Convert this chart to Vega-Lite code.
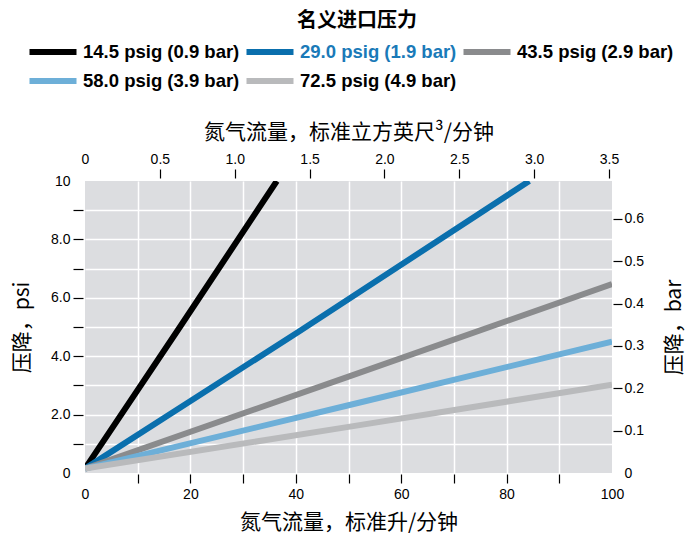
{
  "$schema": "https://vega.github.io/schema/vega-lite/v6.json",
  "width": 527,
  "height": 292,
  "autosize": {"type": "none"},
  "padding": {"left": 85, "top": 181, "right": 84, "bottom": 66},
  "background": "white",
  "config": {
    "view": {"fill": "#dcdde0", "stroke": null},
    "font": "Liberation Sans",
    "axis": {"labelFont": "Liberation Sans", "labelFontSize": 14, "labelColor": "#000", "labelFlush": false, "titleFont": "Noto Sans CJK SC", "titleFontSize": 21, "titleFontWeight": "normal", "titleColor": "#000", "domain": false, "tickColor": "#000", "tickWidth": 1.2}
  },
  "datasets": {
    "lines": [
      {"series": "14.5 psig (0.9 bar)", "lpm": 0, "psi": 0.15},
      {"series": "14.5 psig (0.9 bar)", "lpm": 18.2, "psi": 5.05},
      {"series": "14.5 psig (0.9 bar)", "lpm": 36.4, "psi": 10},
      {"series": "29.0 psig (1.9 bar)", "lpm": 0, "psi": 0.15},
      {"series": "29.0 psig (1.9 bar)", "lpm": 40.9, "psi": 4.88},
      {"series": "29.0 psig (1.9 bar)", "lpm": 84.3, "psi": 10},
      {"series": "43.5 psig (2.9 bar)", "lpm": 0, "psi": 0.15},
      {"series": "43.5 psig (2.9 bar)", "lpm": 50, "psi": 3.3},
      {"series": "43.5 psig (2.9 bar)", "lpm": 100, "psi": 6.47},
      {"series": "58.0 psig (3.9 bar)", "lpm": 0, "psi": 0.15},
      {"series": "58.0 psig (3.9 bar)", "lpm": 50, "psi": 2.32},
      {"series": "58.0 psig (3.9 bar)", "lpm": 100, "psi": 4.5},
      {"series": "72.5 psig (4.9 bar)", "lpm": 0, "psi": 0.15},
      {"series": "72.5 psig (4.9 bar)", "lpm": 50, "psi": 1.58},
      {"series": "72.5 psig (4.9 bar)", "lpm": 100, "psi": 3.02}
    ],
    "secondary": [
      {"scfm": 0, "bar": 0},
      {"scfm": 3.5, "bar": 0.6}
    ]
  },
  "layer": [
    {
      "data": {"name": "lines"},
      "mark": {"type": "line", "strokeWidth": 6, "strokeCap": "butt", "clip": true},
      "encoding": {
        "x": {
          "field": "lpm", "type": "quantitative",
          "scale": {"domain": [0, 100], "nice": false, "zero": true},
          "axis": {
            "orient": "bottom",
            "values": [0, 10, 20, 30, 40, 50, 60, 70, 80, 90, 100],
            "labelExpr": "datum.value % 20 == 0 ? datum.label : ''",
            "offset": 1, "tickSize": 9, "labelPadding": 4,
            "tickColor": {"condition": {"test": "datum.value == 0 || datum.value == 100", "value": "transparent"}, "value": "#000"},
            "grid": true, "gridColor": "#ffffff", "gridWidth": 1.5,
            "gridOpacity": {"condition": {"test": "datum.value == 0 || datum.value == 100", "value": 0}, "value": 1},
            "title": "氮气流量，标准升/分钟", "titlePadding": 10
          }
        },
        "y": {
          "field": "psi", "type": "quantitative",
          "scale": {"domain": [0, 10], "nice": false, "zero": true},
          "axis": {
            "orient": "left",
            "values": [0, 1, 2, 3, 4, 5, 6, 7, 8, 9, 10],
            "labelExpr": "datum.value == 0 ? '0' : datum.value == 10 ? '10' : (datum.value % 2 == 0 ? format(datum.value, '.1f') : '')",
            "offset": 2, "tickSize": 10, "labelPadding": 3,
            "tickColor": {"condition": {"test": "datum.value == 0 || datum.value == 10", "value": "transparent"}, "value": "#000"},
            "grid": true, "gridColor": "#ffffff", "gridWidth": 1.5,
            "gridOpacity": {"condition": {"test": "datum.value == 0 || datum.value == 10", "value": 0}, "value": 1},
            "title": "压降，psi", "titlePadding": 18
          }
        },
        "color": {
          "field": "series", "type": "nominal",
          "scale": {
            "domain": ["14.5 psig (0.9 bar)", "29.0 psig (1.9 bar)", "43.5 psig (2.9 bar)", "58.0 psig (3.9 bar)", "72.5 psig (4.9 bar)"],
            "range": ["#000000", "#0a6fad", "#8a8b8d", "#6dafd8", "#b9babc"]
          },
          "legend": {
            "orient": "none", "legendX": -45, "legendY": -170,
            "direction": "horizontal", "columns": 3,
            "title": "名义进口压力",
            "titleFont": "Noto Sans CJK SC", "titleFontSize": 20, "titleFontWeight": "bold", "titleColor": "#000",
            "titleAnchor": "middle", "titlePadding": 8,
            "labelFont": "Liberation Sans", "labelFontSize": 18.5, "labelFontWeight": "bold", "labelLimit": 300,
            "symbolType": "M-2.35,0H2.35", "symbolSize": 400, "symbolStrokeWidth": 6,
            "labelOffset": 17, "columnPadding": -6, "rowPadding": 4, "padding": 0,
            "encode": {"labels": {"update": {"fill": {"signal": "datum.value === '29.0 psig (1.9 bar)' ? '#1a7ab8' : '#000000'"}}}}
          }
        }
      }
    },
    {
      "data": {"name": "secondary"},
      "mark": {"type": "point", "opacity": 0},
      "encoding": {
        "x": {
          "field": "scfm", "type": "quantitative",
          "scale": {"domain": [0, 3.52], "nice": false, "zero": true},
          "axis": {
            "orient": "top",
            "values": [0, 0.5, 1, 1.5, 2, 2.5, 3, 3.5],
            "labelExpr": "datum.value == 0 ? '0' : format(datum.value, '.1f')",
            "offset": 3, "tickSize": 9, "labelPadding": 3,
            "tickColor": {"condition": {"test": "datum.value == 0", "value": "transparent"}, "value": "#000"},
            "grid": false,
            "title": "氮气流量，标准立方英尺³/分钟", "titlePadding": 10
          }
        },
        "y": {
          "field": "bar", "type": "quantitative",
          "scale": {"domain": [0, 0.6895], "nice": false, "zero": true},
          "axis": {
            "orient": "right",
            "values": [0, 0.1, 0.2, 0.3, 0.4, 0.5, 0.6],
            "labelExpr": "datum.value == 0 ? '0' : format(datum.value, '.1f')",
            "offset": 1, "tickSize": 9, "labelPadding": 2,
            "tickColor": {"condition": {"test": "datum.value == 0", "value": "transparent"}, "value": "#000"},
            "grid": false,
            "title": "压降，bar", "titleAngle": 270, "titlePadding": 41
          }
        }
      }
    }
  ],
  "resolve": {"scale": {"x": "independent", "y": "independent", "color": "independent"}}
}
